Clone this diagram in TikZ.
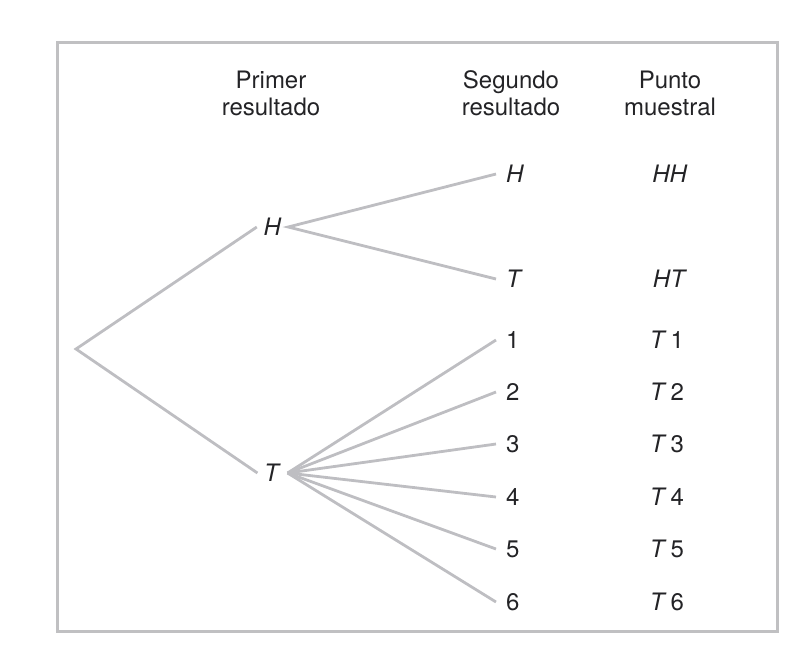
\documentclass[tikz,border=0pt]{standalone}
\usepackage{fontspec}
\setmainfont{TeX Gyre Heros}
\definecolor{linegray}{RGB}{190,190,194}
\definecolor{framegray}{RGB}{192,192,194}
\definecolor{txt}{RGB}{35,35,38}
\begin{document}
\begin{tikzpicture}[x=1pt,y=-1pt,
  branch/.style={draw=linegray, line width=2.8pt},
  lbl/.style={font=\fontsize{24}{27}\selectfont, text=txt, inner sep=0pt},
  mid/.style={lbl, inner xsep=6.5pt, anchor=center},
  leaf/.style={lbl, inner xsep=10pt, anchor=west},
  res/.style={lbl, anchor=center},
  head/.style={lbl, align=center, anchor=base}]
\useasboundingbox (0,0) rectangle (799,653);
\draw[framegray, line width=3pt] (57.5,42.5) rectangle (777.5,631.5);
% headers
\node[head] (h1) at (271,115) {Primer\\resultado};
\node[head] (h2) at (511,115) {Segundo\\resultado};
\node[head] (h3) at (670,115) {Punto\\muestral};
% tree nodes
\coordinate (root) at (76,349);
\node[mid] (H1) at (272.5,227) {\textit{H}};
\node[mid] (T1) at (272.5,473) {\textit{T}};
\node[leaf] (HH) at (496,174) {\textit{H}};
\node[leaf] (HT) at (496,279) {\textit{T}};
\node[leaf] (n1) at (496,340) {1};
\node[leaf] (n2) at (496,392) {2};
\node[leaf] (n3) at (496,444) {3};
\node[leaf] (n4) at (496,497) {4};
\node[leaf] (n5) at (496,549) {5};
\node[leaf] (n6) at (496,602) {6};
% sample points
\node[res] (sHH) at (670,174) {\textit{HH}};
\node[res] (sHT) at (670,279) {\textit{HT}};
\node[res] (s1) at (667,340) {\textit{T}\,1};
\node[res] (s2) at (667,392) {\textit{T}\,2};
\node[res] (s3) at (667,444) {\textit{T}\,3};
\node[res] (s4) at (667,497) {\textit{T}\,4};
\node[res] (s5) at (667,549) {\textit{T}\,5};
\node[res] (s6) at (667,602) {\textit{T}\,6};
% branches
\draw[branch] (H1.west) -- (root) -- (T1.west);
\draw[branch] (HH.west) -- (H1.east) -- (HT.west);
\foreach \n in {n1,n2,n3,n4,n5,n6}{
  \draw[branch] (T1.east) -- (\n.west);
}
\end{tikzpicture}
\end{document}
